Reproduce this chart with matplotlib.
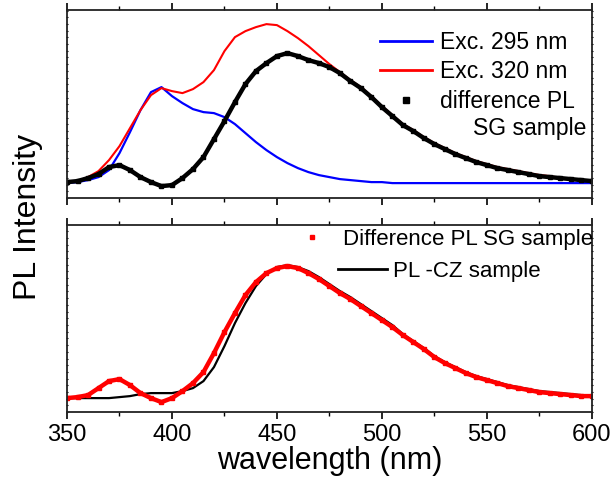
import numpy as np
import matplotlib
matplotlib.use("Agg")
import matplotlib.pyplot as plt
from matplotlib.lines import Line2D
from matplotlib.ticker import MultipleLocator

plt.rcParams['font.family'] = ['Liberation Sans', 'DejaVu Sans']

# wavelength grid (nm)
wl = np.arange(350, 601, 5)

# top panel: PL spectra of SG sample (a.u.)
exc295 = [15, 16, 18, 21, 28, 45, 66, 88, 106, 111, 102, 95, 89, 86, 85, 81, 74, 65,
          56, 48, 41, 35, 30, 26, 23, 21, 19, 18, 17, 16, 16, 15, 15, 15, 15, 15, 15,
          15, 15, 15, 15, 15, 15, 15, 15, 15, 15, 15, 15, 15, 15]
exc320 = [16, 17, 21, 27, 38, 52, 70, 88, 103, 110, 107, 105, 109, 116, 128, 147, 161, 167,
          171, 174, 173, 167, 160, 152, 143, 134, 126, 118, 111, 102, 92, 83, 74, 68, 61,
          55, 50, 45, 41, 37, 34, 31, 29, 27, 25, 23, 22, 20, 19, 18, 17]
diff_top = [16, 17, 20, 24, 31, 33, 28, 21, 16, 12, 13, 20, 29, 41, 59, 77, 96, 114,
            127, 135, 142, 145, 142, 138, 135, 131, 125, 117, 110, 101, 91, 82, 73, 67, 60,
            54, 49, 44, 40, 36, 33, 30, 28, 26, 24, 22, 21, 20, 19, 18, 17]

# bottom panel: difference PL vs CZ sample (a.u.)
diff_bot = [14, 15, 17, 24, 31, 33, 27, 19, 14, 10, 14, 21, 29, 40, 59, 80, 99, 117,
            130, 139, 144, 146, 144, 139, 133, 126, 119, 113, 106, 99, 92, 85, 77, 70, 63,
            55, 49, 44, 39, 35, 32, 29, 26, 24, 22, 20, 19, 18, 17, 16, 16]
pl_cz = [14, 14, 14, 14, 14, 15, 16, 18, 19, 19, 19, 21, 24, 31, 45, 66, 89, 109,
         126, 138, 145, 147, 145, 141, 135, 128, 121, 115, 108, 101, 94, 87, 78, 71, 64,
         56, 50, 45, 40, 36, 33, 30, 27, 25, 23, 21, 20, 19, 18, 17, 17]

fig = plt.figure(figsize=(6.12, 4.82), dpi=100)
ax1 = fig.add_axes([0.1095, 0.589, 0.8575, 0.390])
ax2 = fig.add_axes([0.1095, 0.145, 0.8575, 0.388])

ax1.plot(wl, exc295, color='#0000ff', lw=1.6)
ax1.plot(wl, exc320, color='#ff0000', lw=1.5)
ax1.plot(wl, diff_top, color='k', lw=3.2, marker='s', ms=2.5)

ax2.plot(wl, pl_cz, color='k', lw=1.6)
ax2.plot(wl, diff_bot, color='#ff0000', lw=3.2, marker='s', ms=2.5)

for ax in (ax1, ax2):
    ax.set_xlim(350, 600)
    ax.xaxis.set_major_locator(MultipleLocator(50))
    ax.xaxis.set_minor_locator(MultipleLocator(25))
    ax.yaxis.set_major_locator(MultipleLocator(6.7))
    ax.tick_params(axis='x', which='major', direction='out', length=5, width=1.2,
                   top=True, labelsize=17)
    ax.tick_params(axis='x', which='minor', direction='out', length=3, width=1.0, top=True)
    ax.tick_params(axis='y', which='major', direction='inout', length=2, width=0.8,
                   right=True, labelleft=False)
    for s in ax.spines.values():
        s.set_linewidth(1.3)
        s.set_color('#222222')

ax1.set_ylim(0, 188)
ax2.set_ylim(0, 187)
ax1.tick_params(axis='x', labelbottom=False)

# legends
h_top = [Line2D([], [], color='#0000ff', lw=2),
         Line2D([], [], color='#ff0000', lw=2),
         Line2D([], [], color='k', ls='none', marker='s', ms=4)]
ax1.legend(h_top, ['Exc. 295 nm', 'Exc. 320 nm', 'difference PL'],
           loc='upper left', bbox_to_anchor=(0.596, 0.89), frameon=False,
           fontsize=16.5, handlelength=2.27, handletextpad=0.35,
           labelspacing=0.28, borderpad=0, borderaxespad=0)
ax1.text(0.990, 0.372, 'SG sample', transform=ax1.transAxes, fontsize=16.5,
         ha='right', va='center')

lg_a = ax2.legend([Line2D([], [], color='#ff0000', ls='none', marker='s', ms=3.5)],
                  ['Difference PL SG sample'], loc='upper left',
                  bbox_to_anchor=(0.446, 0.98), frameon=False, fontsize=16,
                  handlelength=1.0, handletextpad=0.9, borderpad=0, borderaxespad=0)
ax2.add_artist(lg_a)
ax2.legend([Line2D([], [], color='k', lw=2)], ['PL -CZ sample'], loc='upper left',
           bbox_to_anchor=(0.516, 0.808), frameon=False, fontsize=16,
           handlelength=2.2, handletextpad=0.27, borderpad=0, borderaxespad=0)

ax2.set_xlabel('wavelength (nm)', fontsize=22, labelpad=0)
fig.text(0.046, 0.55, 'PL Intensity', rotation=90, fontsize=23, ha='center', va='center')

fig.savefig('out.png', dpi=100)
